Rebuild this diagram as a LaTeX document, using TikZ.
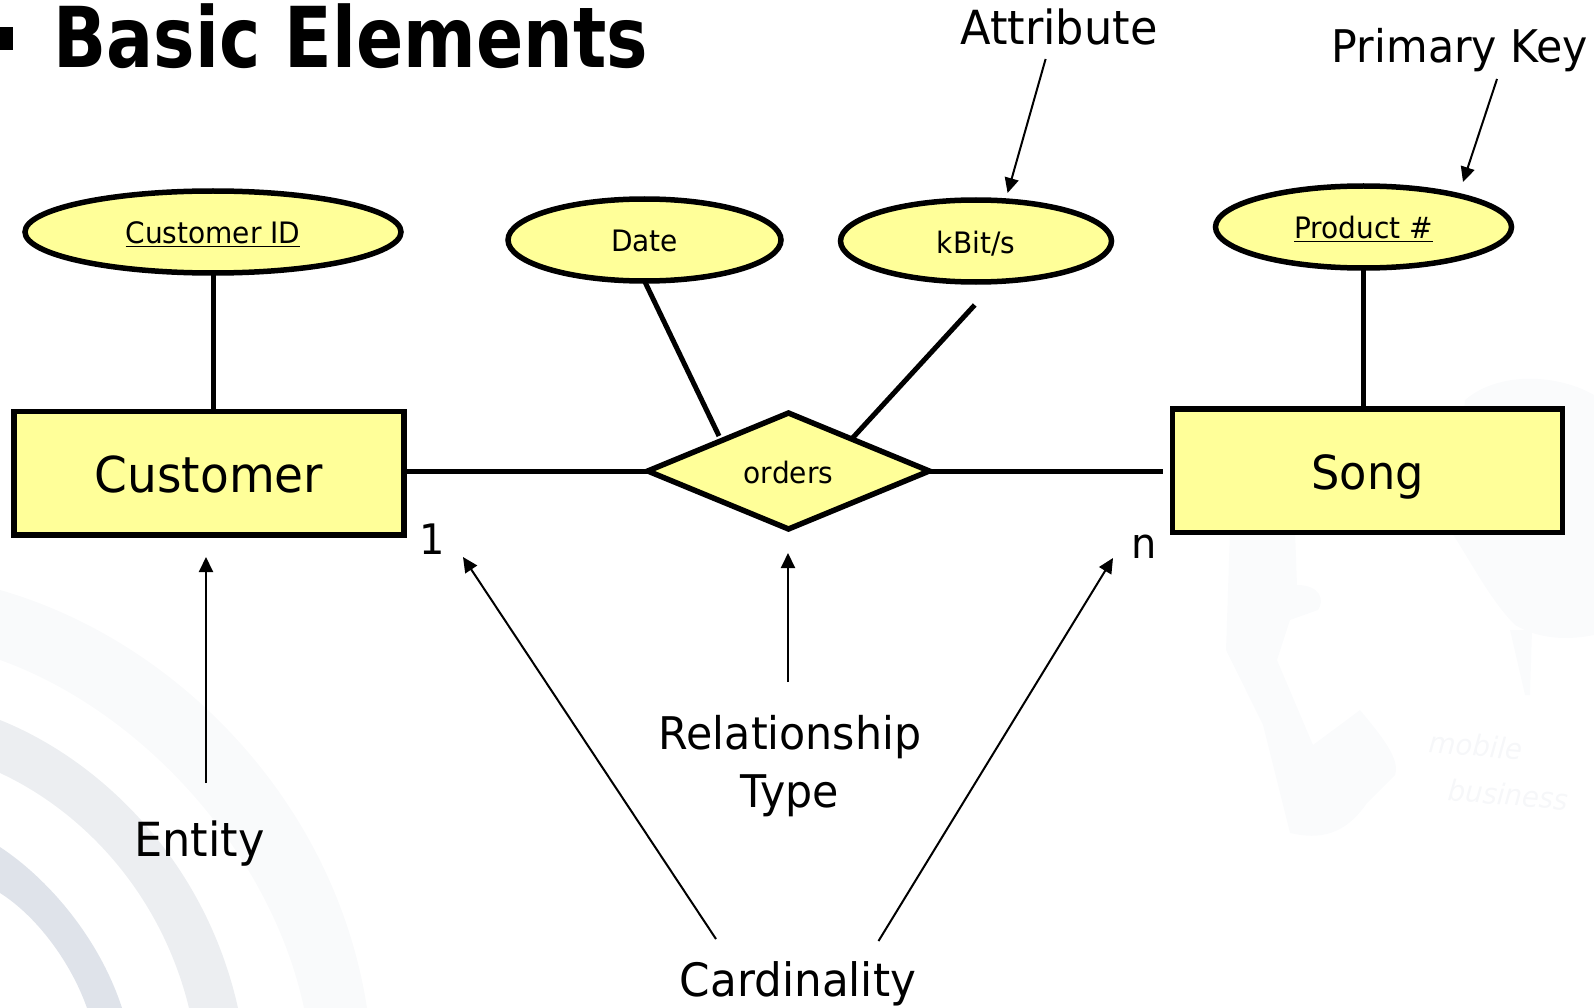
\documentclass[tikz,border=0pt]{standalone}
\usepackage{fontspec}
\setmainfont[FakeStretch=0.95]{DejaVu Sans}
\newfontfamily\ttlfont[FakeStretch=0.83]{DejaVu Sans}
\usetikzlibrary{shapes.geometric,arrows.meta}
\definecolor{erfill}{HTML}{FFFF99}
\definecolor{arcA}{HTML}{F9FAFB}
\definecolor{arcB}{HTML}{ECEEF1}
\definecolor{arcC}{HTML}{DFE3EA}
\definecolor{wmark}{HTML}{FAFBFC}
\definecolor{wmtext}{HTML}{F6F7F9}
\newcommand{\fs}[1]{\fontsize{#1}{#1}\selectfont}
\newcommand{\bl}[2]{\raisebox{-#1pt}{#2}}
\tikzset{
  x=1pt,y=-1pt,
  shp/.style={draw=black,fill=erfill,line width=5.5pt,inner sep=0pt,outer sep=0pt,text height=0pt,text depth=0pt},
  attr/.style={shp,ellipse,minimum width=#1,minimum height=82pt,font=\fs{29.5}},
  entity/.style={shp,rectangle,minimum width=390pt,minimum height=123.5pt,font=\fs{49.5}},
  rel/.style={shp,diamond,minimum width=281.5pt,minimum height=116pt,font=\fs{29.5}},
  note/.style={anchor=base,inner sep=0pt,font=\fs{47},align=center},
  link/.style={line width=5pt},
  ptr/.style={line width=2pt,-{Triangle[length=15pt,width=14pt]}},
  faint/.style={anchor=base west,inner sep=0pt,text=wmtext,font=\fs{29}\itshape,rotate=-5}
}
\begin{document}
\begin{tikzpicture}
\useasboundingbox (0,0) rectangle (1594,1008);
% background arcs
\fill[arcA] (0,590) .. controls (175,640) and (335,800) .. (367,1008) -- (304,1008) .. controls (270,850) and (140,710) .. (0,660) -- cycle;
\fill[arcB] (0,720) .. controls (100,760) and (205,860) .. (238,1008) -- (189,1008) .. controls (160,890) and (80,810) .. (0,773) -- cycle;
\fill[arcC] (0,847) .. controls (50,880) and (100,940) .. (122,1008) -- (87,1008) .. controls (70,960) and (35,915) .. (0,893) -- cycle;
% faint figure at the right
\fill[wmark] (1230,530) -- (1295,530) -- (1297,585) .. controls (1320,585) and (1325,600) .. (1318,610) -- (1290,620) -- (1277,660) -- (1313,745) -- (1360,710) .. controls (1385,740) and (1400,760) .. (1395,775) -- (1367,803) .. controls (1345,835) and (1320,840) .. (1290,833) -- (1263,725) -- (1226,650) -- cycle;
\fill[wmark] (1465,400) .. controls (1500,370) and (1560,375) .. (1594,395) -- (1594,635) .. controls (1570,640) and (1540,640) .. (1515,625) .. controls (1490,600) and (1470,560) .. (1450,530) -- cycle;
\fill[wmark] (1510,630) -- (1532,630) -- (1530,695) -- (1525,695) -- cycle;
\node[faint] (wm1) at (1428,752) {mobile};
\node[faint] (wm2) at (1447,800) {business};
% title
\fill[black] (0,27) rectangle (13,50);
\node[anchor=base,inner sep=0pt,font=\fs{84}\ttlfont\bfseries] (title) at (351,68) {Basic Elements};
% shapes
\node[entity] (customer) at (209,473) {\bl{19}{Customer}};
\node[entity,font=\fs{47}] (song) at (1367.5,470.5) {\bl{19}{Song}};
\node[rel] (orders) at (788.5,471) {\bl{12}{orders}};
\node[attr=376pt] (cid) at (213,232) {\bl{12}{\underline{Customer ID}}};
\node[attr=273pt] (date) at (644.5,240) {\bl{12}{Date}};
\node[attr=271pt] (kbit) at (976,241) {\bl{13}{kBit/s}};
\node[attr=296pt] (prod) at (1363.5,227) {\bl{12}{\underline{Product \#}}};
% connectors
\coordinate (custEnd) at (407,471);
\coordinate (songEnd) at (1162.6,471);
\coordinate (kbitEnd) at (974.7,305);
\coordinate (dateEnd) at (719,436);
\coordinate (kbitStart) at (853,437.5);
\draw[link] (cid.south) -- (cid.south |- customer.north);
\draw[link] (prod.south) -- (prod.south |- song.north);
\draw[link] (custEnd) -- (orders.west);
\draw[link] (orders.east) -- (songEnd);
\draw[link] (date.south) -- (dateEnd);
\draw[link] (kbitEnd) -- (kbitStart);
% labels
\node[note] (attrlab) at (1059,44.5) {Attribute};
\node[note,font=\fs{45}] (pklab) at (1460,63) {Primary Key};
\node[note] (entlab) at (199.5,856.5) {Entity};
\node[note,font=\fs{45}] (rellab1) at (790,749) {Relationship};
\node[note,font=\fs{45}] (rellab2) at (790,807) {Type};
\node[note,font=\fs{46}] (cardlab) at (798,996) {Cardinality};
\node[note,font=\fs{42}] (one) at (432,554) {1};
\node[note,font=\fs{42}] (en) at (1144,558) {n};
% pointers
\coordinate (a1) at (1045.6,59); \coordinate (a2) at (1007.6,193);
\coordinate (p1) at (1497,79); \coordinate (p2) at (1463,182);
\coordinate (e1) at (206,783); \coordinate (e2) at (206,557);
\coordinate (r1) at (788,682); \coordinate (r2) at (788,553);
\coordinate (c1) at (716,939); \coordinate (c2) at (463,557);
\coordinate (d1) at (878.5,941); \coordinate (d2) at (1113,558);
\draw[ptr] (a1) -- (a2);
\draw[ptr] (p1) -- (p2);
\draw[ptr] (e1) -- (e2);
\draw[ptr] (r1) -- (r2);
\draw[ptr] (c1) -- (c2);
\draw[ptr] (d1) -- (d2);
\end{tikzpicture}
\end{document}
